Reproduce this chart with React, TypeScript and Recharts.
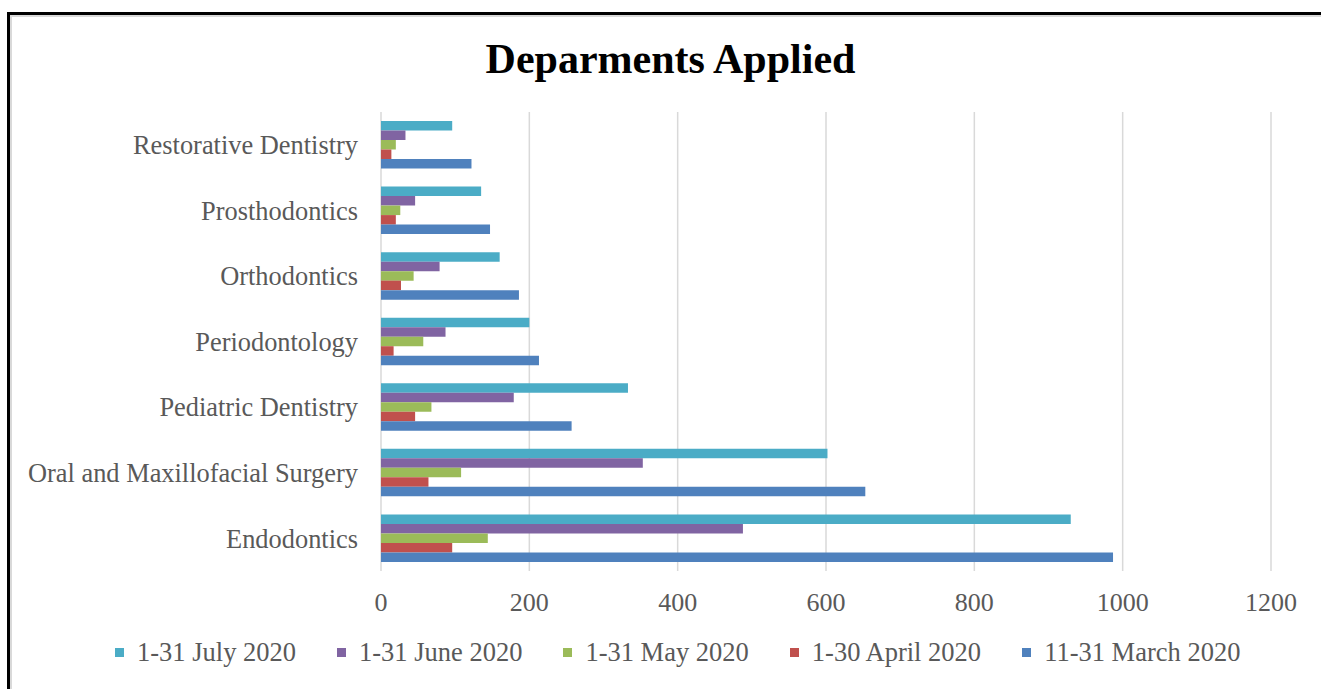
import React from "react";
import { BarChart, Bar, XAxis, YAxis, CartesianGrid } from "recharts";

// departments, top to bottom as drawn
const departments = [
  "Restorative Dentistry",
  "Prosthodontics",
  "Orthodontics",
  "Periodontology",
  "Pediatric Dentistry",
  "Oral and Maxillofacial Surgery",
  "Endodontics",
];

const july = [96, 135, 160, 200, 333, 602, 930];
const june = [33, 46, 79, 87, 179, 353, 488];
const may = [20, 26, 44, 57, 68, 108, 144];
const april = [14, 20, 27, 17, 46, 64, 96];
const march = [122, 147, 186, 213, 257, 653, 987];

const xTicks = [0, 200, 400, 600, 800, 1000, 1200];

const series = [
  { key: "july", label: "1-31 July 2020", color: "#4BACC6", values: july },
  { key: "june", label: "1-31 June 2020", color: "#8064A2", values: june },
  { key: "may", label: "1-31 May 2020", color: "#9BBB59", values: may },
  { key: "april", label: "1-30 April 2020", color: "#C0504D", values: april },
  { key: "march", label: "11-31 March 2020", color: "#4F81BD", values: march },
];

const data = departments.map((name, i) => {
  const row: Record<string, string | number> = { name };
  series.forEach((s) => (row[s.key] = s.values[i]));
  return row;
});

const FONT = "'Liberation Serif', 'Times New Roman', serif";
const tickStyle = { fontSize: 26, fill: "#595959", fontFamily: FONT };

export default function App() {
  return (
    <div style={{ position: "fixed", left: 0, top: 0, width: 1321, height: 689, background: "#fff", overflow: "hidden" }}>
      {/* frame */}
      <div style={{ position: "absolute", left: 7, top: 12, width: 1330, height: 700, borderLeft: "3px solid #000", borderTop: "3px solid #000" }} />
      <div style={{ position: "absolute", left: 10, top: 15, width: 1330, height: 700, borderLeft: "2px solid #d9d9d9", borderTop: "2px solid #d9d9d9" }} />

      <div
        style={{
          position: "absolute",
          left: 0,
          width: 1341,
          top: 35,
          textAlign: "center",
          fontFamily: FONT,
          fontWeight: "bold",
          fontSize: 42,
          lineHeight: "48px",
          color: "#000",
        }}
      >
        Deparments Applied
      </div>

      <div style={{ position: "absolute", left: 0, top: 0 }}>
        <BarChart
          width={1321}
          height={689}
          data={data}
          layout="vertical"
          margin={{ top: 112, right: 50, bottom: 78, left: 11 }}
          barGap={0}
        >
          <CartesianGrid horizontal={false} stroke="#D9D9D9" strokeWidth={1.5} />
          <XAxis
            type="number"
            domain={[0, 1200]}
            ticks={xTicks}
            axisLine={false}
            tickLine={false}
            tickSize={0}
            tickMargin={22}
            height={40}
            tick={tickStyle}
            interval={0}
          />
          <YAxis
            type="category"
            dataKey="name"
            width={370}
            axisLine={false}
            tickLine={false}
            tickSize={0}
            tickMargin={23}
            tick={{ ...tickStyle, fontSize: 26.4 }}
            interval={0}
          />
          {series.map((s) => (
            <Bar
              key={s.key}
              dataKey={s.key}
              name={s.label}
              fill={s.color}
              barSize={9.5}
              isAnimationActive={false}
            />
          ))}
        </BarChart>
      </div>

      {/* legend */}
      <div
        style={{
          position: "absolute",
          left: 115,
          top: 637,
          display: "flex",
          alignItems: "center",
          gap: 41,
          fontFamily: FONT,
          fontSize: 26.5,
          color: "#595959",
          whiteSpace: "nowrap",
        }}
      >
        {series.map((s) => (
          <div key={s.key} style={{ display: "flex", alignItems: "center" }}>
            <span style={{ display: "inline-block", width: 9, height: 9, background: s.color, marginRight: 13 }} />
            <span>{s.label}</span>
          </div>
        ))}
      </div>
    </div>
  );
}
